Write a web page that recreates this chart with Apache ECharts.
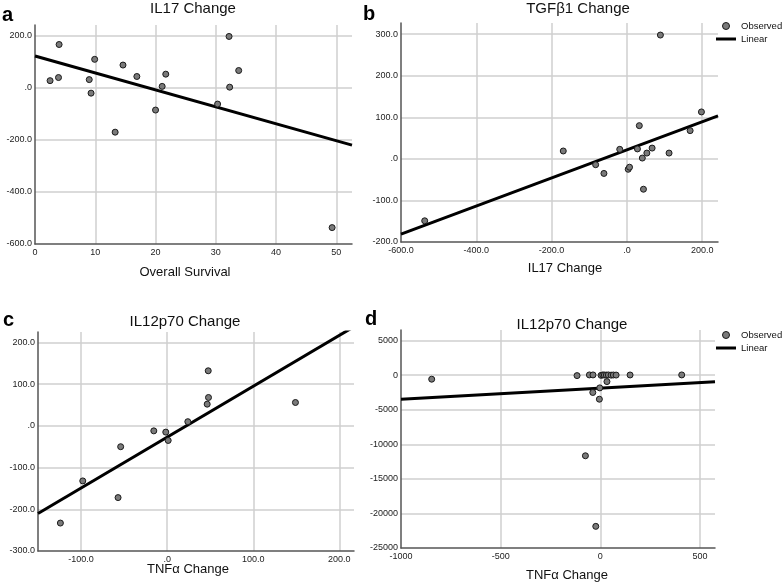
<!DOCTYPE html>
<html><head><meta charset="utf-8">
<script src="https://cdn.jsdelivr.net/npm/echarts@6/dist/echarts.min.js"></script>
<style>html,body{margin:0;padding:0;background:#fff}#c{width:784px;height:588px}</style>
</head><body><div id="c"></div>
<script>
// Panel a: Overall Survival vs IL17 Change
const survivalA = [2.5, 4.0, 3.9, 9.0, 9.3, 9.9, 13.3, 14.6, 16.9, 20.0, 21.1, 21.7, 30.3, 32.2, 32.3, 33.8, 49.3];
const il17A = [28, 167, 40, 32, -20, 110, -170, 88, 44, -85, 6, 53, -62, 198, 3, 67, -537];
const fitAx = [0, 52.6];
const fitAy = [123, -220];
// Panel b: IL17 Change vs TGFβ1 Change
const il17B = [-537, -169, -83, -61, -19, 3.5, 7, 28, 33, 41, 44, 53, 67, 89, 112, 168, 198];
const tgfB = [-149, 19, -14, -35, 23, -25, -20, 24, 80, 2, -73, 14, 26, 298, 14, 68, 113];
const fitBx = [-600, 242];
const fitBy = [-181, 103.5];
// Panel c: TNFα Change vs IL12p70 Change
const tnfC = [-124, -98, -57, -54, -15.5, -1.6, 1.2, 24, 46.5, 48, 47.7, 149];
const il12C = [-233, -132, -172, -50, -12, -15, -35, 10, 52, 68, 132, 56];
const fitCx = [-150, 217];
const fitCy = [-210, 237.7];
// Panel d: TNFα Change vs IL12p70 Change (all)
const tnfD = [-846, -117, -55, -37, 3.5, 12, 20, 30, 40, 54, 65, 79, 149, 408, 33, -38, -5, -3, -75, -23];
const il12D = [-578, -60, 40, 40, -20, 40, 30, 20, 40, 10, 30, 20, 30, 40, -925, -2500, -3470, -1835, -11657, -21870];
const fitDx = [-1000, 575];
const fitDy = [-3468, -950];

const titles = ['IL17 Change', 'TGF\u03b21 Change', 'IL12p70 Change', 'IL12p70 Change'];
const xNames = ['Overall Survival', 'IL17 Change', 'TNF\u03b1 Change', 'TNF\u03b1 Change'];
const letters = ['a', 'b', 'c', 'd'];

const FONT = '"Liberation Sans", Arial, sans-serif';
const fmt1 = v => (Math.abs(v) < 1e-9 ? '.0' : v.toFixed(1));
const fmt0 = v => String(Math.round(v));

const pairs = (xs, ys) => xs.map((x, i) => [x, ys[i]]);

const grids = [
  {left: 35, top: 25, width: 317, height: 219},
  {left: 401, top: 23, width: 317, height: 219},
  {left: 38, top: 332, width: 316, height: 219},
  {left: 401, top: 330, width: 314, height: 218}
];

function axisBase(extra) {
  return Object.assign({
    type: 'value',
    axisLine: {show: true, onZero: false, lineStyle: {color: '#555', width: 1.5}},
    axisTick: {show: false},
    splitLine: {show: true, showMinLine: false, showMaxLine: false, lineStyle: {color: '#cfcfcf', width: 1.5}},
    axisLabel: {color: '#222', fontSize: 9, fontFamily: FONT, margin: 3, showMaxLabel: false}
  }, extra);
}

const xAxes = [
  axisBase({gridIndex: 0, min: 0, max: 52.6, interval: 10, axisLabel: {color: '#222', fontSize: 9, fontFamily: FONT, margin: 4, showMaxLabel: false, formatter: fmt0}}),
  axisBase({gridIndex: 1, min: -600, max: 242, interval: 200, axisLabel: {color: '#222', fontSize: 9, fontFamily: FONT, margin: 4, showMaxLabel: false, formatter: fmt1}}),
  axisBase({gridIndex: 2, min: -150, max: 217, splitNumber: 4, axisLabel: {color: '#222', fontSize: 9, fontFamily: FONT, margin: 4, showMinLabel: false, showMaxLabel: false, formatter: fmt1}}),
  axisBase({gridIndex: 3, min: -1000, max: 575, interval: 500, axisLabel: {color: '#222', fontSize: 9, fontFamily: FONT, margin: 4, showMaxLabel: false, formatter: fmt0}})
];
const yAxes = [
  axisBase({gridIndex: 0, min: -600, max: 242, interval: 200, axisLabel: {color: '#222', fontSize: 9, fontFamily: FONT, margin: 3, showMaxLabel: false, formatter: fmt1}}),
  axisBase({gridIndex: 1, min: -200, max: 327, interval: 100, axisLabel: {color: '#222', fontSize: 9, fontFamily: FONT, margin: 3, showMaxLabel: false, formatter: fmt1}}),
  axisBase({gridIndex: 2, min: -300, max: 225, interval: 100, axisLabel: {color: '#222', fontSize: 9, fontFamily: FONT, margin: 3, showMaxLabel: false, formatter: fmt1}}),
  axisBase({gridIndex: 3, min: -25000, max: 6540, interval: 5000, axisLabel: {color: '#222', fontSize: 9, fontFamily: FONT, margin: 3, showMaxLabel: false, formatter: fmt0}})
];

const scatterData = [pairs(survivalA, il17A), pairs(il17B, tgfB), pairs(tnfC, il12C), pairs(tnfD, il12D)];
const lineData = [pairs(fitAx, fitAy), pairs(fitBx, fitBy), pairs(fitCx, fitCy), pairs(fitDx, fitDy)];

const series = [];
for (let i = 0; i < 4; i++) {
  series.push({
    name: 'Linear', type: 'line', xAxisIndex: i, yAxisIndex: i,
    data: lineData[i], showSymbol: false, symbol: 'none', clip: true,
    lineStyle: {color: '#000', width: 3}, itemStyle: {color: '#000'},
    silent: true, animation: false, z: 2
  });
  series.push({
    name: 'Observed', type: 'scatter', xAxisIndex: i, yAxisIndex: i,
    data: scatterData[i], symbolSize: 6,
    itemStyle: {color: '#7a7a7a', borderColor: '#1a1a1a', borderWidth: 1, opacity: 1},
    animation: false, z: 3
  });
}

const graphics = [];
const titlePos = [[193, 9], [578, 9], [185, 322], [572, 325]];
const namePos = [[185, 272], [565, 268], [188, 569], [567, 575]];
const letterPos = [[2, 15], [363, 14], [3, 320], [365, 319]];
for (let i = 0; i < 4; i++) {
  graphics.push({type: 'text', x: titlePos[i][0], y: titlePos[i][1], style: {text: titles[i], font: '15px ' + FONT, fill: '#111', textAlign: 'center', textVerticalAlign: 'middle'}});
  graphics.push({type: 'text', x: namePos[i][0], y: namePos[i][1], style: {text: xNames[i], font: '13px ' + FONT, fill: '#111', textAlign: 'center', textVerticalAlign: 'middle'}});
  graphics.push({type: 'text', x: letterPos[i][0], y: letterPos[i][1], style: {text: letters[i], font: 'bold 20px ' + FONT, fill: '#000', textAlign: 'left', textVerticalAlign: 'middle'}});
}

function legendAt(top) {
  return {
    orient: 'vertical', left: 716, top: top, padding: 0, itemWidth: 20, itemHeight: 7, itemGap: 3,
    selectedMode: false, symbolKeepAspect: true,
    textStyle: {fontSize: 9.5, fontFamily: FONT, color: '#111'},
    data: [
      {name: 'Observed', icon: 'circle', itemStyle: {color: '#7a7a7a', borderColor: '#1a1a1a', borderWidth: 1}},
      {name: 'Linear', icon: 'path://M0,0 L20,0 L20,3 L0,3 Z', itemStyle: {color: '#000', borderWidth: 0}}
    ]
  };
}

const chart = echarts.init(document.getElementById('c'), null, {renderer: 'canvas'});
chart.setOption({
  backgroundColor: '#fff',
  animation: false,
  grid: grids,
  xAxis: xAxes,
  yAxis: yAxes,
  legend: [legendAt(21), legendAt(330)],
  series: series,
  graphic: graphics
});
</script></body></html>
